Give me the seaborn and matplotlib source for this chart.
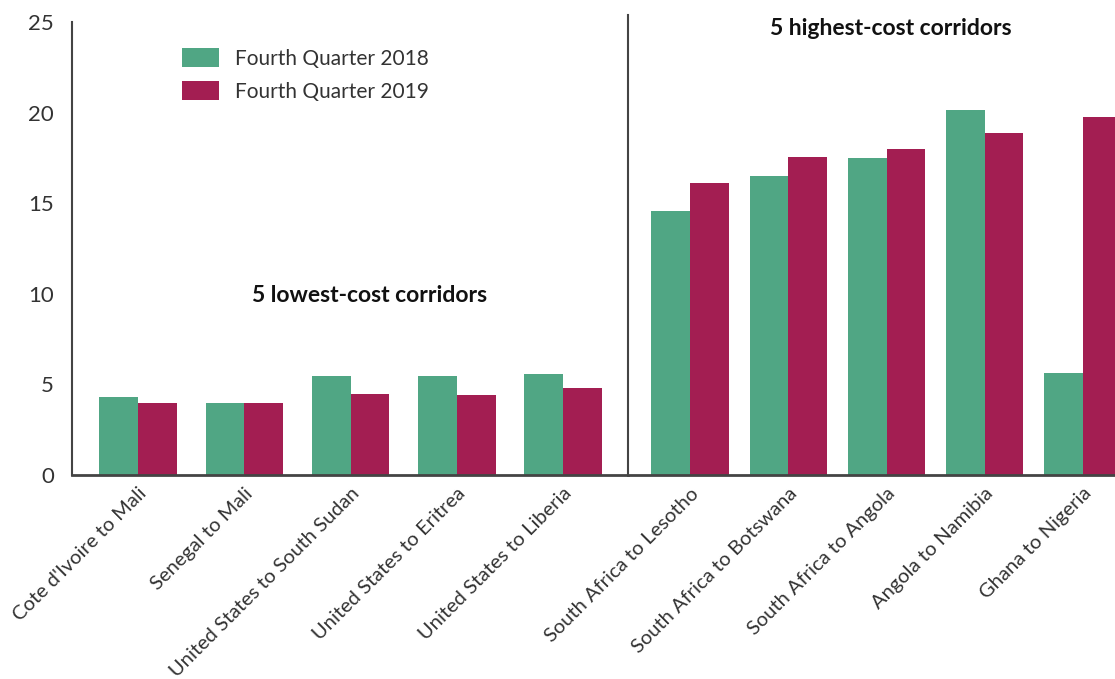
import numpy as np
import pandas as pd
import matplotlib.pyplot as plt
import seaborn as sns

# Data
low_corridors = ["Cote d'Ivoire to Mali", "Senegal to Mali", "United States to South Sudan",
                 "United States to Eritrea", "United States to Liberia"]
low_2018 = [4.3, 4.0, 5.45, 5.45, 5.6]
low_2019 = [4.0, 4.0, 4.45, 4.4, 4.8]

high_corridors = ["South Africa to Lesotho", "South Africa to Botswana", "South Africa to Angola",
                  "Angola to Namibia", "Ghana to Nigeria"]
high_2018 = [14.55, 16.5, 17.5, 20.15, 5.65]
high_2019 = [16.1, 17.55, 18.0, 18.85, 19.75]

periods = ["Fourth Quarter 2018", "Fourth Quarter 2019"]
colors = ["#50a684", "#a31e52"]


def to_long(names, a, b):
    return pd.DataFrame({
        'corridor': names * 2,
        'cost': a + b,
        'period': [periods[0]] * len(names) + [periods[1]] * len(names),
    })


df_low = to_long(low_corridors, low_2018, low_2019)
df_high = to_long(high_corridors, high_2018, high_2019)

sns.set_style('white')
plt.rcParams['font.family'] = ['Lato', 'DejaVu Sans']
spine_c = '#444444'
text_c = '#333333'

fig = plt.figure(figsize=(11.15, 6.79), dpi=100)
ax1 = fig.add_axes([0.0646, 0.3004, 0.4987, 0.6672])
ax2 = fig.add_axes([0.5632, 0.3004, 0.4368, 0.6672])

sns.barplot(data=df_low, x='corridor', y='cost', hue='period', palette=colors,
            width=0.73, saturation=1, linewidth=0, ax=ax1)
sns.barplot(data=df_high, x='corridor', y='cost', hue='period', palette=colors,
            width=0.79, saturation=1, linewidth=0, ax=ax2, legend=False)

ax1.set_xlim(-0.623, 4.613)
ax2.set_xlim(-0.633, 4.327)
for ax in (ax1, ax2):
    ax.set_ylim(0, 25)
    ax.set_xlabel('')
    ax.set_ylabel('')
    ax.spines['top'].set_visible(False)
    ax.spines['right'].set_visible(False)
    ax.spines['bottom'].set_color(spine_c)
    ax.spines['bottom'].set_linewidth(2)
    ax.tick_params(axis='x', length=0, pad=7)
    plt.setp(ax.get_xticklabels(), rotation=45, ha='right', rotation_mode='anchor',
             fontsize=14.5, color=text_c)

ax1.spines['left'].set_color(spine_c)
ax1.spines['left'].set_linewidth(1.5)
ax1.set_yticks([0, 5, 10, 15, 20, 25])
ax1.tick_params(axis='y', length=8, width=1.5, color=spine_c, labelsize=16,
                labelcolor=text_c, pad=5)

# divider between the two groups
ax2.set_yticks([])
ax2.spines['left'].set_color(spine_c)
ax2.spines['left'].set_linewidth(1.5)
ax2.spines['left'].set_bounds(0, 25.4)

ax1.text(2.18, 9.9, '5 lowest-cost corridors', ha='center', va='center',
         fontsize=16.5, fontweight='bold', color='#111111')
ax2.text(2.04, 24.65, '5 highest-cost corridors', ha='center', va='center',
         fontsize=16.5, fontweight='bold', color='#111111')

leg = ax1.legend(loc='upper left', bbox_to_anchor=(0.1632, 0.929),
                 bbox_transform=fig.transFigure, frameon=False, fontsize=15,
                 handlelength=1.78, handleheight=1.0, handletextpad=0.75,
                 labelspacing=0.6, borderpad=0, borderaxespad=0)
for t in leg.get_texts():
    t.set_color(text_c)

fig.savefig('out.png', dpi=100)
